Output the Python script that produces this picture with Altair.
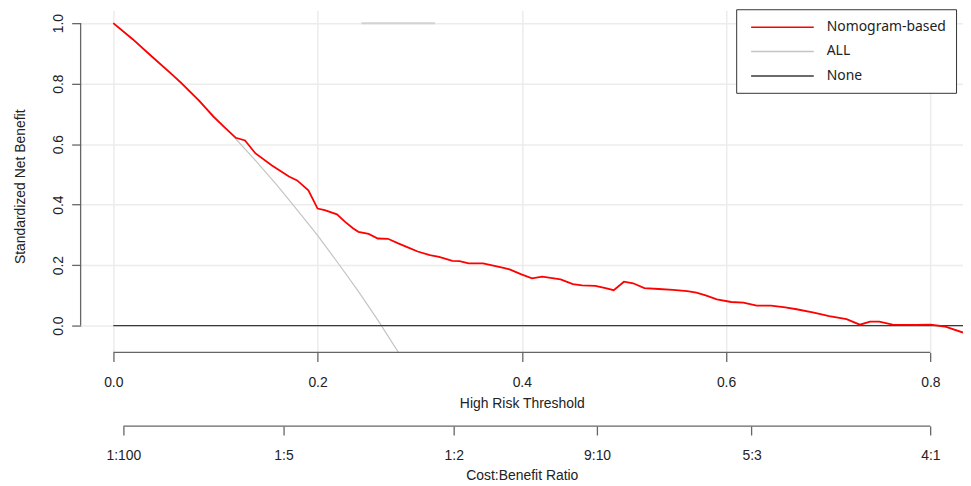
import altair as alt
import pandas as pd

# ---- data ----
thr_red = [0.000, 0.019, 0.038, 0.055, 0.066, 0.084, 0.098, 0.110, 0.120, 0.129,
           0.139, 0.155, 0.172, 0.180, 0.191, 0.196, 0.200, 0.207, 0.219, 0.227,
           0.235, 0.240, 0.250, 0.259, 0.269, 0.279, 0.289, 0.298, 0.310, 0.319,
           0.332, 0.339, 0.348, 0.362, 0.371, 0.381, 0.388, 0.399, 0.410, 0.420,
           0.438, 0.450, 0.459, 0.472, 0.482, 0.490, 0.500, 0.509, 0.520, 0.534,
           0.548, 0.562, 0.571, 0.580, 0.591, 0.605, 0.617, 0.630, 0.644, 0.658,
           0.669, 0.686, 0.701, 0.718, 0.731, 0.741, 0.750, 0.763, 0.786, 0.800,
           0.814, 0.832]
nb_red = [1.000, 0.947, 0.889, 0.838, 0.804, 0.744, 0.691, 0.652, 0.621, 0.612,
          0.570, 0.530, 0.493, 0.480, 0.447, 0.414, 0.387, 0.382, 0.368, 0.343,
          0.321, 0.310, 0.303, 0.288, 0.287, 0.272, 0.258, 0.245, 0.233, 0.227,
          0.214, 0.213, 0.206, 0.206, 0.199, 0.192, 0.186, 0.170, 0.156, 0.162,
          0.153, 0.137, 0.133, 0.131, 0.124, 0.117, 0.145, 0.140, 0.124, 0.121,
          0.118, 0.114, 0.109, 0.100, 0.087, 0.078, 0.076, 0.066, 0.066, 0.060,
          0.054, 0.043, 0.031, 0.021, 0.003, 0.013, 0.013, 0.003, 0.002, 0.003,
          -0.003, -0.023]

thr_all = [0.00, 0.02, 0.04, 0.06, 0.08, 0.10, 0.12, 0.14, 0.16, 0.18,
           0.20, 0.22, 0.24, 0.26, 0.28, 0.30]
nb_all = [1.000, 0.943, 0.883, 0.821, 0.756, 0.688, 0.617, 0.543, 0.465, 0.383,
          0.298, 0.207, 0.113, 0.013, -0.093, -0.204]

thr_none = [0.0, 0.84]
nb_none = [0.0, 0.0]

# short grey segment visible near the top of the reference
thr_seg = [0.243, 0.315]
nb_seg = [1.0, 1.0]

x_ticks = [0.0, 0.2, 0.4, 0.6, 0.8]
y_ticks = [0.0, 0.2, 0.4, 0.6, 0.8, 1.0]
cb_labels = ["1:100", "1:5", "1:2", "9:10", "5:3", "4:1"]
cb_cost = [1, 1, 1, 9, 5, 4]
cb_benefit = [100, 5, 2, 10, 3, 1]

series_names = ["Nomogram-based", "ALL", "None"]
series_colors = ["#ff0000", "#c4c4c4", "#3a3a3a"]

# ---- tables ----
cb_pos = [c / (c + b) for c, b in zip(cb_cost, cb_benefit)]
df_red = pd.DataFrame({"t": thr_red, "nb": nb_red, "series": series_names[0]})
df_all = pd.DataFrame({"t": thr_all, "nb": nb_all, "series": series_names[1]})
df_none = pd.DataFrame({"t": thr_none, "nb": nb_none, "series": series_names[2]})
df_seg = pd.DataFrame({"t": thr_seg, "nb": nb_seg})
df_xax = pd.DataFrame({"a": [min(x_ticks)], "b": [max(x_ticks)]})
df_cb = pd.DataFrame({"a": [min(cb_pos)], "b": [max(cb_pos)]})
df_yax = pd.DataFrame({"a": [min(y_ticks)], "b": [max(y_ticks)]})

W, H = 887, 344
CB_OFFSET = 74
FONT = "Liberation Sans"
AX_COL = "#666666"
TXT = "#222222"

xs = alt.Scale(domain=[-0.032, 0.832], nice=False, zero=False)
ys = alt.Scale(domain=[-0.0888, 1.0428], nice=False, zero=False)
cs = alt.Scale(domain=series_names, range=series_colors)

x_axis = alt.Axis(values=x_ticks, format=".1f", title="High Risk Threshold", orient="bottom",
                  domain=False, tickSize=9, tickColor=AX_COL, tickWidth=1.3,
                  labelFont=FONT, labelFontSize=14, labelColor=TXT, labelPadding=25,
                  labelBaseline="alphabetic",
                  titleFont=FONT, titleFontSize=14, titleFontWeight="normal", titleColor=TXT,
                  titleY=55, titleBaseline="alphabetic",
                  grid=True, gridColor="#ececec", gridWidth=1.5)

label_expr = "".join(
    f"abs(datum.value - {v}) < 1e-6 ? '{lab}' : " for v, lab in zip(cb_pos, cb_labels)
) + "''"
cb_axis = alt.Axis(values=cb_pos, labelExpr=label_expr, title="Cost:Benefit Ratio", orient="bottom",
                   offset=CB_OFFSET, domain=False, tickSize=9, tickColor=AX_COL, tickWidth=1.3,
                   labelFont=FONT, labelFontSize=14, labelColor=TXT, labelPadding=25,
                   labelBaseline="alphabetic",
                   titleFont=FONT, titleFontSize=14, titleFontWeight="normal", titleColor=TXT,
                   titleY=54, titleBaseline="alphabetic", grid=False)

y_axis = alt.Axis(values=y_ticks, format=".1f", title="Standardized Net Benefit", orient="left",
                  domain=False, tickSize=9, tickColor=AX_COL, tickWidth=1.3,
                  labelFont=FONT, labelFontSize=14, labelColor=TXT, labelPadding=9,
                  labelAngle=270, labelAlign="center", labelBaseline="alphabetic",
                  titleFont=FONT, titleFontSize=14, titleFontWeight="normal", titleColor=TXT,
                  titleAngle=270, titleX=-56, titleY=177, titleAlign="center",
                  titleBaseline="alphabetic",
                  grid=True, gridColor="#ececec", gridWidth=1.5)

legend = alt.Legend(title=None, orient="none", legendX=659, legendY=-1,
                    symbolType="M-0.43,0L8.57,0", symbolSize=196, symbolStrokeWidth=1.5,
                    labelFont="Noto Sans", labelFontSize=14, labelColor=TXT, labelOffset=65,
                    strokeColor="#333333", fillColor="white", padding=10, rowPadding=9.5)

color = alt.Color("series:N", scale=cs, legend=legend)

all_line = alt.Chart(df_all).mark_line(strokeWidth=1.2, clip=True).encode(
    x=alt.X("t:Q", scale=xs, axis=None),
    y=alt.Y("nb:Q", scale=ys, axis=y_axis),
    color=color,
)
seg_line = alt.Chart(df_seg).mark_line(strokeWidth=2, color="#d2d2d2", clip=True).encode(
    x=alt.X("t:Q", scale=xs, axis=None),
    y=alt.Y("nb:Q", scale=ys, axis=y_axis),
)
none_line = alt.Chart(df_none).mark_line(strokeWidth=1.3, clip=True).encode(
    x=alt.X("t:Q", scale=xs, axis=None),
    y=alt.Y("nb:Q", scale=ys, axis=y_axis),
    color=color,
)
red_line = alt.Chart(df_red).mark_line(strokeWidth=1.8, clip=True).encode(
    x=alt.X("t:Q", scale=xs, axis=x_axis),
    y=alt.Y("nb:Q", scale=ys, axis=y_axis),
    color=color,
)
x_dom = alt.Chart(df_xax).mark_rule(color=AX_COL, strokeWidth=1.3).encode(
    x=alt.X("a:Q", scale=xs, axis=None), x2="b:Q", y=alt.value(H),
)
cb_dom = alt.Chart(df_cb).mark_rule(color=AX_COL, strokeWidth=1.3).encode(
    x=alt.X("a:Q", scale=xs, axis=cb_axis), x2="b:Q", y=alt.value(H + CB_OFFSET),
)
y_dom = alt.Chart(df_yax).mark_rule(color=AX_COL, strokeWidth=1.3).encode(
    y=alt.Y("a:Q", scale=ys, axis=y_axis), y2="b:Q", x=alt.value(0),
)

chart = alt.layer(all_line, seg_line, none_line, red_line, x_dom, cb_dom, y_dom).resolve_axis(
    x="independent"
).properties(
    width=W, height=H,
    autosize=alt.AutoSizeParams(type="none"),
    padding={"left": 73, "top": 1, "right": 0, "bottom": 130},
    background="white",
).configure_view(stroke=None)

chart.save("out.html", embed_options={"renderer": "svg", "actions": False})
